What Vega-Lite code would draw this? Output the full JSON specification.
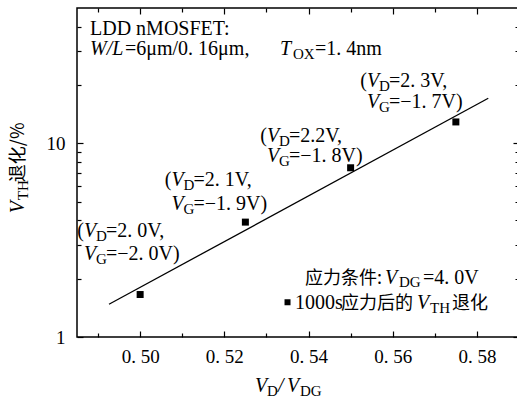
{
  "$schema": "https://vega.github.io/schema/vega-lite/v6.json",
  "width": 442,
  "height": 329,
  "autosize": {"type": "none"},
  "padding": {"left": 77, "top": 8, "right": 0, "bottom": 71},
  "background": "white",
  "config": {
    "font": "Liberation Serif",
    "view": {"stroke": "black", "strokeWidth": 1.5},
    "axis": {"domain": false, "grid": false, "tickColor": "black", "tickWidth": 1.2, "labelColor": "black", "labelFont": "Liberation Serif", "labelFontSize": 19},
    "text": {"baseline": "alphabetic", "align": "left", "fontSize": 20, "font": "Liberation Serif", "color": "black"}
  },
  "datasets": {
    "pts": [{"x": 0.5, "y": 1.657}, {"x": 0.525, "y": 3.92}, {"x": 0.55, "y": 7.48}, {"x": 0.575, "y": 12.9}],
    "fit": [{"x": 0.4926, "y": 1.476}, {"x": 0.5827, "y": 17.1}],
    "ann": [
      {"x": 0.48666, "y": 3.279, "open": "(", "sub": "D", "rest": "=2. 0V,"},
      {"x": 0.48666, "y": 2.493, "open": "", "sub": "G", "rest": "=−2. 0V)"},
      {"x": 0.50745, "y": 6.036, "open": "(", "sub": "D", "rest": "=2. 1V,"},
      {"x": 0.50745, "y": 4.52, "open": "", "sub": "G", "rest": "=−1. 9V)"},
      {"x": 0.53013, "y": 10.155, "open": "(", "sub": "D", "rest": "=2.2V,"},
      {"x": 0.53013, "y": 8.005, "open": "", "sub": "G", "rest": "=−1. 8V)"},
      {"x": 0.55389, "y": 19.55, "open": "(", "sub": "D", "rest": "=2. 3V,"},
      {"x": 0.55389, "y": 15.22, "open": "", "sub": "G", "rest": "=−1. 7V)"}
    ],
    "hdr1": [{"x": 0.48809, "y": 36.3, "t": "LDD nMOSFET:"}],
    "hdr2": [{"x": 0.48809, "y": 28.62, "a": "W/L", "b": "=6μm/0. 16μm,", "c": "T", "d": "OX", "e": "=1. 4nm"}],
    "leg1": [{"x": 0.53916, "y": 1.873, "a": "应力条件:", "b": "V", "c": "DG", "d": "=4. 0V"}],
    "leg2": [{"x": 0.53678, "y": 1.3906, "a": "1000s", "b": "应力后的", "c": "V", "d": "TH", "e": "退化"}],
    "legsq": [{"x": 0.53501, "y": 1.5115}],
    "xt": [{"x": 0.52728, "y": 0.5177, "a": "V", "b": "D", "c": "/", "d": "V", "e": "DG"}],
    "yt": [{"x": 0.47241, "y": 4.362, "a": "V", "b": "TH", "c": "退化/%"}]
  },
  "encoding": {
    "x": {"field": "x", "type": "quantitative", "scale": {"domain": [0.485, 0.59], "nice": false, "zero": false}, "axis": null},
    "y": {"field": "y", "type": "quantitative", "scale": {"type": "log", "domain": [1, 50], "nice": false}, "axis": null}
  },
  "resolve": {"axis": {"x": "independent", "y": "independent"}},
  "layer": [
    {
      "data": {"name": "pts"},
      "mark": {"type": "square", "filled": true, "color": "black", "size": 49, "opacity": 1},
      "encoding": {
        "x": {"field": "x", "type": "quantitative", "scale": {"domain": [0.485, 0.59], "nice": false, "zero": false},
              "axis": {"orient": "bottom", "values": [0.5, 0.52, 0.54, 0.56, 0.58], "tickSize": -6, "labelPadding": 16, "labelExpr": "replace(format(datum.value,'.2f'),'.','. ')", "title": null}},
        "y": {"field": "y", "type": "quantitative", "scale": {"type": "log", "domain": [1, 50], "nice": false},
              "axis": {"orient": "left", "values": [1, 10], "tickSize": -6, "labelPadding": 18, "format": "d", "title": null}}
      }
    },
    {
      "data": {"name": "fit"},
      "mark": {"type": "line", "color": "black", "strokeWidth": 1.3},
      "encoding": {
        "x": {"field": "x", "type": "quantitative", "scale": {"domain": [0.485, 0.59], "nice": false, "zero": false},
              "axis": {"orient": "bottom", "values": [0.49, 0.51, 0.53, 0.55, 0.57], "tickSize": -4, "labels": false, "title": null}},
        "y": {"field": "y", "type": "quantitative", "scale": {"type": "log", "domain": [1, 50], "nice": false},
              "axis": {"orient": "left", "values": [2, 3, 4, 5, 6, 7, 8, 9, 20, 30, 40], "tickSize": -4, "labels": false, "title": null}}
      }
    },
    {
      "data": {"name": "ann"},
      "mark": {"type": "text", "align": "right"},
      "encoding": {
        "text": {"field": "open"},
        "x": {"field": "x", "type": "quantitative", "scale": {"domain": [0.485, 0.59], "nice": false, "zero": false},
              "axis": {"orient": "top", "values": [0.5, 0.52, 0.54, 0.56, 0.58], "tickSize": -6, "labels": false, "title": null}},
        "y": {"field": "y", "type": "quantitative", "scale": {"type": "log", "domain": [1, 50], "nice": false},
              "axis": {"orient": "right", "values": [1, 10], "tickSize": -6, "labels": false, "title": null}}
      }
    },
    {
      "data": {"name": "ann"},
      "mark": {"type": "text", "fontStyle": "italic", "text": "V"},
      "encoding": {
        "x": {"field": "x", "type": "quantitative", "scale": {"domain": [0.485, 0.59], "nice": false, "zero": false},
              "axis": {"orient": "top", "values": [0.49, 0.51, 0.53, 0.55, 0.57], "tickSize": -4, "labels": false, "title": null}},
        "y": {"field": "y", "type": "quantitative", "scale": {"type": "log", "domain": [1, 50], "nice": false},
              "axis": {"orient": "right", "values": [2, 3, 4, 5, 6, 7, 8, 9, 20, 30, 40], "tickSize": -4, "labels": false, "title": null}}
      }
    },
    {"data": {"name": "ann"}, "mark": {"type": "text", "fontSize": 15, "dx": 12, "dy": 4}, "encoding": {"text": {"field": "sub"}}},
    {"data": {"name": "ann"}, "mark": {"type": "text", "dx": 22}, "encoding": {"text": {"field": "rest"}}},
    {"data": {"name": "hdr1"}, "mark": {"type": "text"}, "encoding": {"text": {"field": "t"}}},
    {"data": {"name": "hdr2"}, "mark": {"type": "text", "fontStyle": "italic"}, "encoding": {"text": {"field": "a"}}},
    {"data": {"name": "hdr2"}, "mark": {"type": "text", "dx": 35}, "encoding": {"text": {"field": "b"}}},
    {"data": {"name": "hdr2"}, "mark": {"type": "text", "fontStyle": "italic", "dx": 190}, "encoding": {"text": {"field": "c"}}},
    {"data": {"name": "hdr2"}, "mark": {"type": "text", "fontSize": 15, "dx": 203, "dy": 4}, "encoding": {"text": {"field": "d"}}},
    {"data": {"name": "hdr2"}, "mark": {"type": "text", "dx": 225}, "encoding": {"text": {"field": "e"}}},
    {"data": {"name": "leg1"}, "mark": {"type": "text", "font": "Noto Sans CJK SC", "fontSize": 18}, "encoding": {"text": {"field": "a"}}},
    {"data": {"name": "leg1"}, "mark": {"type": "text", "fontStyle": "italic", "dx": 80}, "encoding": {"text": {"field": "b"}}},
    {"data": {"name": "leg1"}, "mark": {"type": "text", "fontSize": 15, "dx": 94, "dy": 3}, "encoding": {"text": {"field": "c"}}},
    {"data": {"name": "leg1"}, "mark": {"type": "text", "dx": 118}, "encoding": {"text": {"field": "d"}}},
    {"data": {"name": "legsq"}, "mark": {"type": "square", "filled": true, "color": "black", "size": 36, "opacity": 1}},
    {"data": {"name": "leg2"}, "mark": {"type": "text"}, "encoding": {"text": {"field": "a"}}},
    {"data": {"name": "leg2"}, "mark": {"type": "text", "font": "Noto Sans CJK SC", "fontSize": 18, "dx": 46}, "encoding": {"text": {"field": "b"}}},
    {"data": {"name": "leg2"}, "mark": {"type": "text", "fontStyle": "italic", "dx": 122}, "encoding": {"text": {"field": "c"}}},
    {"data": {"name": "leg2"}, "mark": {"type": "text", "fontSize": 15, "dx": 135, "dy": 4}, "encoding": {"text": {"field": "d"}}},
    {"data": {"name": "leg2"}, "mark": {"type": "text", "font": "Noto Sans CJK SC", "fontSize": 18, "dx": 157}, "encoding": {"text": {"field": "e"}}},
    {"data": {"name": "xt"}, "mark": {"type": "text", "fontStyle": "italic"}, "encoding": {"text": {"field": "a"}}},
    {"data": {"name": "xt"}, "mark": {"type": "text", "fontSize": 15, "dx": 12, "dy": 4}, "encoding": {"text": {"field": "b"}}},
    {"data": {"name": "xt"}, "mark": {"type": "text", "fontStyle": "italic", "dx": 23}, "encoding": {"text": {"field": "c"}}},
    {"data": {"name": "xt"}, "mark": {"type": "text", "fontStyle": "italic", "dx": 32}, "encoding": {"text": {"field": "d"}}},
    {"data": {"name": "xt"}, "mark": {"type": "text", "fontSize": 15, "dx": 45, "dy": 4}, "encoding": {"text": {"field": "e"}}},
    {"data": {"name": "yt"}, "mark": {"type": "text", "fontStyle": "italic", "angle": 270}, "encoding": {"text": {"field": "a"}}},
    {"data": {"name": "yt"}, "mark": {"type": "text", "fontSize": 15, "angle": 270, "dx": 13, "dy": 4}, "encoding": {"text": {"field": "b"}}},
    {"data": {"name": "yt"}, "mark": {"type": "text", "font": "Noto Sans CJK SC", "fontSize": 18, "angle": 270, "dx": 31}, "encoding": {"text": {"field": "c"}}}
  ]
}
